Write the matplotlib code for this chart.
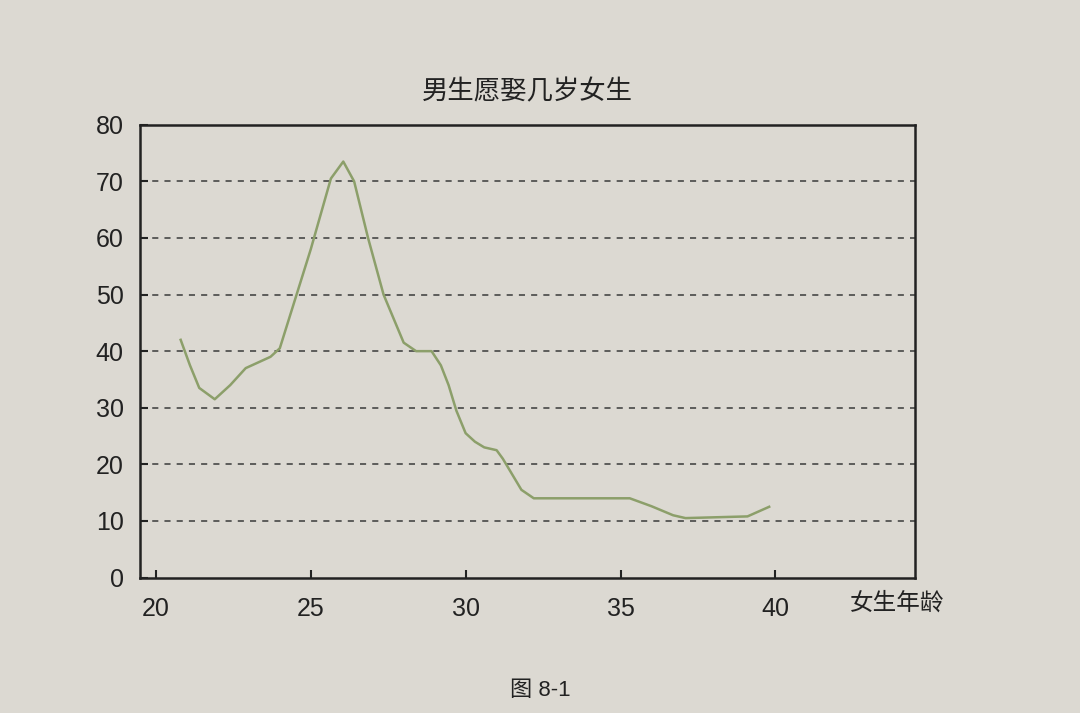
import matplotlib
matplotlib.use("Agg")
import matplotlib.pyplot as plt

plt.rcParams['font.family'] = ['Liberation Sans', 'Noto Sans CJK SC', 'DejaVu Sans']

title = "男生愿娶几岁女生"
xlabel = "女生年龄"
caption = "图 8-1"

ages = [20.8, 21.1, 21.4, 21.9, 22.4, 22.9, 23.7, 24.0, 25.0, 25.65, 26.05, 26.4,
        26.85, 27.35, 28.0, 28.4, 28.9, 29.2, 29.45, 29.7, 30.0, 30.3, 30.6, 31.0,
        31.2, 31.8, 32.2, 35.3, 36.0, 36.7, 37.1, 39.1, 39.8]
counts = [42, 37.5, 33.5, 31.5, 34, 37, 39, 40.5, 58, 70.5, 73.5, 70,
          60, 50, 41.5, 40, 40, 37.5, 34, 29.5, 25.5, 24, 23, 22.5,
          21, 15.5, 14, 14, 12.6, 11, 10.5, 10.8, 12.5]

xticks = [20, 25, 30, 35, 40]
yticks = [0, 10, 20, 30, 40, 50, 60, 70, 80]
grid_levels = [10, 20, 30, 40, 50, 60, 70]

paper = '#dcd9d2'
fig = plt.figure(figsize=(10.8, 7.13), dpi=100, facecolor=paper)
ax = fig.add_axes([0.13, 0.19, 0.717, 0.635], facecolor=paper)

ax.plot(ages, counts, color='#8c9f6a', lw=1.8)

for g in grid_levels:
    ax.axhline(g, color='#3a3a3a', lw=1.1, ls=(0, (4, 4)), zorder=0)

ax.set_xlim(19.5, 44.5)
ax.set_ylim(0, 80)
ax.set_xticks(xticks)
ax.set_yticks(yticks)
ax.tick_params(direction='in', length=6, width=1.5, labelsize=18, colors='#222222')
ax.tick_params(axis='x', pad=14)
ax.tick_params(axis='y', pad=12)
for s in ax.spines.values():
    s.set_linewidth(1.8)
    s.set_color('#222222')

ax.set_title(title, fontsize=19, color='#222222', pad=18)
fig.text(897 / 1080, 1 - 603 / 713, xlabel, fontsize=17, color='#222222',
         ha='center', va='center')
fig.text(0.5, 1 - 690 / 713, caption, fontsize=16, color='#222222',
         ha='center', va='center')

fig.savefig('out.png', dpi=100, facecolor=paper)
